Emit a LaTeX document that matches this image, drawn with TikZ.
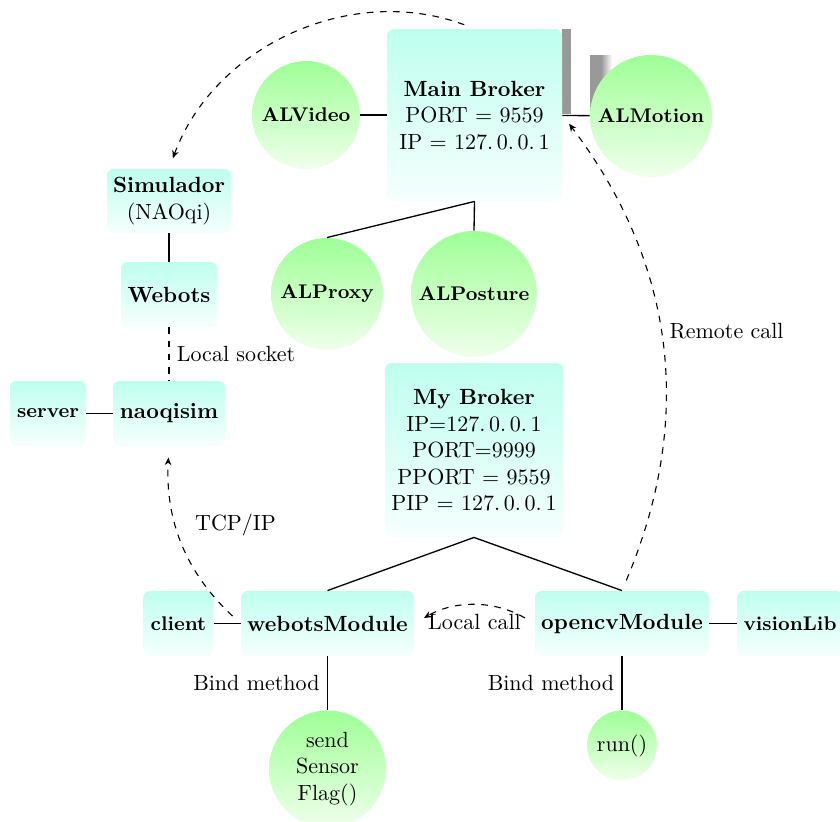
\documentclass[tikz,border=0pt]{standalone}
\usetikzlibrary{arrows.meta}
\def\pxu{0.4545pt}
\definecolor{boxtop}{RGB}{190,255,238}
\definecolor{boxbot}{RGB}{246,255,253}
\definecolor{balltop}{RGB}{158,255,150}
\definecolor{ballbot}{RGB}{240,255,236}
\tikzset{
  box/.style={rounded corners=3pt, top color=boxtop, bottom color=boxbot, inner sep=0pt, align=center},
  ball/.style={circle, top color=balltop, bottom color=ballbot, inner sep=0pt, align=center, font=\small},
  link/.style={line width=0.6pt},
  sock/.style={dashed, line width=0.5pt},
  call/.style={dashed, line width=0.5pt, -{Stealth[length=3.5pt,width=3pt]}, shorten >=5pt, shorten <=5pt},
}
\begin{document}
\begin{tikzpicture}[x=\pxu, y=-\pxu]
\useasboundingbox (0,0) rectangle (840,821);
% shadow artefacts
\fill[gray!80] (562,29) rectangle (571,114);
\fill[gray!80] (590,55) rectangle (601,116);
\shade[left color=gray!80, right color=white] (601,55) rectangle (612,116);
% nodes
\node[box, minimum width=175*\pxu, minimum height=172*\pxu] (main) at (474.5,115)
  {\textbf{Main Broker}\\PORT = 9559\\IP = $127.\,0.\,0.\,1$};
\node[ball, minimum size=108*\pxu] (alvideo) at (306,115) {\textbf{ALVideo}};
\node[ball, minimum size=122*\pxu] (almotion) at (651,116) {\textbf{ALMotion}};
\node[ball, minimum size=112*\pxu] (alproxy) at (327,294) {\textbf{ALProxy}};
\node[ball, minimum size=126*\pxu] (alposture) at (474,294) {\textbf{ALPosture}};
\node[box, minimum width=178*\pxu, minimum height=174*\pxu] (mybroker) at (474,450)
  {\textbf{My Broker}\\IP=$127.\,0.\,0.\,1$\\PORT=9999\\PPORT = 9559\\PIP = $127.\,0.\,0.\,1$};
\node[box, minimum width=124*\pxu, minimum height=64*\pxu] (sim) at (169,201) {\textbf{Simulador}\\(NAOqi)};
\node[box, minimum width=96*\pxu, minimum height=65*\pxu] (webots) at (169,294.5) {\textbf{Webots}};
\node[box, minimum width=112*\pxu, minimum height=65*\pxu] (naoqisim) at (169,413.5) {\textbf{naoqisim}};
\node[box, font=\small, minimum width=76*\pxu, minimum height=65*\pxu] (server) at (48,413.5) {\textbf{server}};
\node[box, font=\small, minimum width=70*\pxu, minimum height=65*\pxu] (client) at (178.5,623.5) {\textbf{client}};
\node[box, minimum width=173*\pxu, minimum height=65*\pxu] (webotsm) at (327.5,623.5) {\textbf{webotsModule}};
\node[box, minimum width=174*\pxu, minimum height=65*\pxu] (opencvm) at (622,623.5) {\textbf{opencvModule}};
\node[box, font=\small, minimum width=106*\pxu, minimum height=65*\pxu] (visionlib) at (790,623.5) {\textbf{visionLib}};
\node[ball, font=\normalsize, minimum size=117*\pxu] (sendflag) at (327.5,769) {send\\Sensor\\Flag()};
\node[ball, font=\normalsize, minimum size=70*\pxu] (run) at (622,745.5) {run()};
% solid links
\draw[link] (alvideo) -- (main);
\draw[link] (main) -- (almotion);
\draw[link] (main.south) -- (alproxy.north);
\draw[link] (main.south) -- (alposture.north);
\draw[link] (mybroker.south) -- (webotsm.north);
\draw[link] (mybroker.south) -- (opencvm.north);
\draw[link] (sim) -- (webots);
\draw[link] (server) -- (naoqisim);
\draw[link] (client) -- (webotsm);
\draw[link] (opencvm) -- (visionlib);
\draw[link] (webotsm) -- node[left]{Bind method} (sendflag);
\draw[link] (opencvm) -- node[left]{Bind method} (run);
% dashed links
\draw[sock] (webots) -- node[right]{Local socket} (naoqisim);
\draw[call] (opencvm.west) to[bend right=30] node[below]{Local call} (webotsm.east);
\draw[call] (webotsm.west) to[bend left=25] node[above right, xshift=2pt]{TCP/IP} (naoqisim.south);
\draw[call] (opencvm.north) to[bend right=30] node[right, yshift=6pt]{Remote call} (main.east);
\draw[call] (main.north) to[bend right=45] (sim.north);
\end{tikzpicture}
\end{document}
